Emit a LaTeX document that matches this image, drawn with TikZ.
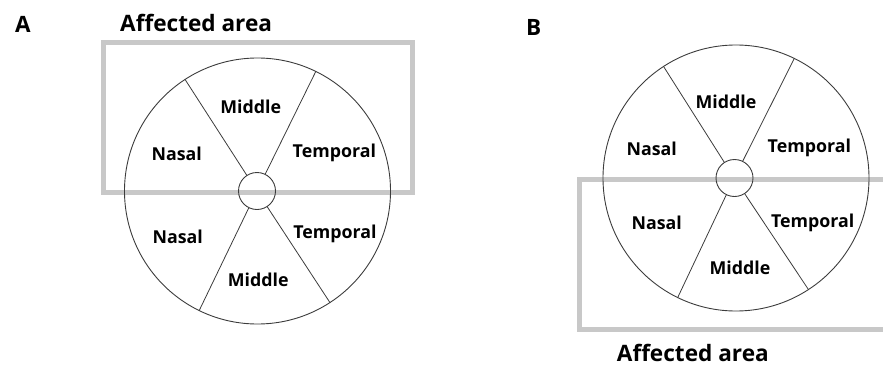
\documentclass[tikz,border=0pt]{standalone}
\usepackage{fontspec}
\setmainfont{Open Sans}
\definecolor{boxgray}{RGB}{200,200,200}
\definecolor{linegray}{RGB}{60,60,60}
\begin{document}
\begin{tikzpicture}[x=1pt,y=-1pt,
  lbl/.style={font=\bfseries\fontsize{17.8}{19}\selectfont, inner sep=0pt},
  ttl/.style={font=\bfseries\fontsize{22.6}{24}\selectfont, inner sep=0pt, anchor=base west},
  letter/.style={font=\bfseries\fontsize{22.5}{24}\selectfont, inner sep=0pt, anchor=base west},
  big/.style={circle, draw=linegray, line width=0.9pt, minimum size=266pt, inner sep=0pt},
  small/.style={circle, draw=linegray, line width=0.9pt, minimum size=37pt, inner sep=0pt},
  spoke/.style={draw=linegray, line width=0.8pt},
  area/.style={draw=boxgray, line width=5pt}]
\useasboundingbox (0,0) rectangle (883,367);
% Panel A
\draw[area] (103.5,42.5) rectangle (412,192.5);
\node[big] (bigA) at (257.5,191) {};
\node[small] (smA) at (257,191) {};
\draw[spoke] (smA.123.6) -- (bigA.123.6);
\draw[spoke] (smA.64.7) -- (bigA.64.7);
\draw[spoke] (smA.244.6) -- (bigA.244.6);
\draw[spoke] (smA.303.6) -- (bigA.303.6);
\node[letter] (labA) at (15,32.3) {A};
\node[ttl] (ttlA) at (120,31.7) {Affected area};
\node[lbl] (mA1) at (250.7,106.7) {Middle};
\node[lbl] (nA1) at (176.7,154.3) {Nasal};
\node[lbl] (tA1) at (334.3,152.7) {Temporal};
\node[lbl] (nA2) at (177.7,237.3) {Nasal};
\node[lbl] (tA2) at (335,234.3) {Temporal};
\node[lbl] (mA2) at (258.3,280) {Middle};
% Panel B
\draw[area] (895,179.5) -- (579.5,179.5) -- (579.5,329.5) -- (895,329.5);
\node[big] (bigB) at (736,178) {};
\node[small] (smB) at (734.5,178) {};
\draw[spoke] (smB.123.6) -- (bigB.123.6);
\draw[spoke] (smB.64.7) -- (bigB.64.7);
\draw[spoke] (smB.244.6) -- (bigB.244.6);
\draw[spoke] (smB.303.6) -- (bigB.303.6);
\node[letter] (labB) at (526,35) {B};
\node[ttl] (ttlB) at (616.7,361.5) {Affected area};
\node[lbl] (mB1) at (726,101.7) {Middle};
\node[lbl] (nB1) at (651.7,149.3) {Nasal};
\node[lbl] (tB1) at (809.3,147.7) {Temporal};
\node[lbl] (nB2) at (656.7,223.3) {Nasal};
\node[lbl] (tB2) at (812.7,223.3) {Temporal};
\node[lbl] (mB2) at (740,267.7) {Middle};
\end{tikzpicture}
\end{document}
